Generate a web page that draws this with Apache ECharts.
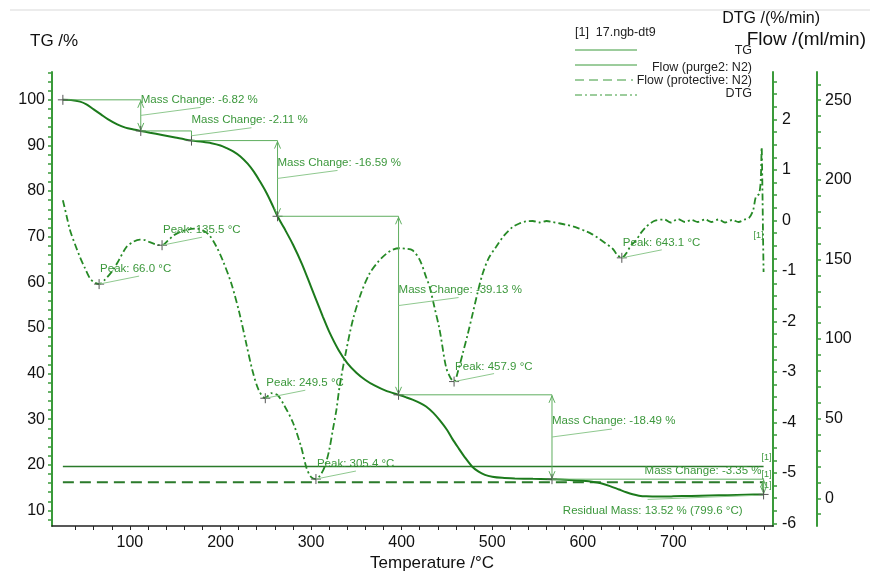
<!DOCTYPE html>
<html><head><meta charset="utf-8">
<script src="https://cdn.jsdelivr.net/npm/echarts@6/dist/echarts.min.js"></script>
<style>html,body{margin:0;padding:0;background:#fff}#c{width:872px;height:577px}</style>
</head><body><div id="c"></div>
<script>
// ---------- data ----------
const tgTemps = [26,35,45,52,60,68,76,86,95,104,112,122,135.5,150,160,168,180,190,200,207,214,222,230,237,243,250,256,263,270,280,290,300,305,313,320,330,340,350,360,370,383,396.6,405,412,420,427,435,442,450,456,462,470,478,485,492,500,511,525,545,566,585,600,612,620,630,640,648,655,662,670,685,700,720,740,760,780,799.6];
const tgValues = [100,99.95,99.6,99.0,97.9,96.8,95.7,94.6,93.9,93.5,93.18,92.8,92.3,91.75,91.35,91.07,90.8,90.5,90.0,89.4,88.7,87.6,86.0,84.2,82.3,79.9,77.5,74.48,72.0,68.3,64.0,59.0,56.5,52.5,49.2,45.3,42.3,40.2,38.6,37.4,36.2,35.35,34.8,34.3,33.6,32.8,31.4,29.8,27.7,25.7,23.9,21.6,19.6,18.5,17.8,17.4,17.15,17.02,16.93,16.86,16.7,16.5,16.25,15.95,15.35,14.6,14.0,13.55,13.25,13.1,13.05,13.1,13.2,13.3,13.35,13.45,13.52];

const dtgTemps = [26,30,34,40,45,50,56,61,66,72,81,88,96,104,111,117,122,130,135.5,142,148,155,164,173.5,181,188,195,202.5,212,221,228,235,242,249.5,256,263,270,280,289,295,300,305.4,310,315,320,324,328,331.5,338,346,355,364.6,374,383,390,397.7,405,412,420,427,431,436,442,449,454,457.9,462,467.5,473,478.5,484,489.5,496,504,513,522.6,530,537,544.7,552,560,566.7,575,583,590,596,603,610,618,625,633,638,643.1,648,653,658.6,664,669.7,675,680.7,690,697,705,713,720,727,735,742,750,757,765,772,779,783.6,788,791,794.6,796.5,797.5,798,798.5,799,799.6];
const dtgValues = [0.40,0.10,-0.20,-0.50,-0.73,-0.93,-1.15,-1.23,-1.26,-1.18,-0.99,-0.78,-0.53,-0.42,-0.38,-0.39,-0.43,-0.48,-0.49,-0.40,-0.30,-0.23,-0.18,-0.16,-0.20,-0.30,-0.50,-0.79,-1.25,-1.84,-2.40,-2.95,-3.35,-3.52,-3.42,-3.46,-3.65,-4.00,-4.48,-4.90,-5.08,-5.12,-5.05,-4.88,-4.55,-4.15,-3.75,-3.29,-2.65,-1.98,-1.45,-1.05,-0.82,-0.66,-0.58,-0.55,-0.56,-0.59,-0.78,-1.12,-1.32,-1.70,-2.17,-2.90,-3.12,-3.19,-3.00,-2.63,-2.25,-1.84,-1.42,-1.05,-0.75,-0.53,-0.30,-0.13,-0.06,-0.02,-0.01,-0.04,-0.01,-0.03,-0.06,-0.09,-0.12,-0.16,-0.21,-0.27,-0.36,-0.45,-0.56,-0.68,-0.74,-0.65,-0.50,-0.40,-0.25,-0.13,-0.05,0.00,0.02,-0.04,0.03,-0.03,0.01,-0.03,0.02,-0.03,0.02,-0.04,0.01,-0.03,0.02,0.05,0.20,0.46,0.53,0.80,1.45,1.00,0.40,-0.30,-1.02];

const flowTemps = [26, 799.6];
const purgeFlow = [20, 20];
const protectiveFlow = [10, 10];

// mass-change steps (TG axis)
const massTemps = [26, 112, 168, 263, 396.6, 566, 799.6];
const massLevels = [100, 93.18, 91.07, 74.48, 35.35, 16.86, 13.52];
const massChanges = ['-6.82', '-2.11', '-16.59', '-39.13', '-18.49', '-3.35'];
const residualText = 'Residual Mass: 13.52 % (799.6 °C)';

// DTG peaks
const peakTemps = [66.0, 135.5, 249.5, 305.4, 457.9, 643.1];
const peakValues = [-1.26, -0.49, -3.52, -5.12, -3.19, -0.74];

// tick labels / ticks
const xLabels = [100,200,300,400,500,600,700];
const xTicks = [40,60,80,100,120,140,160,180,200,220,240,260,280,300,320,340,360,380,400,420,440,460,480,500,520,540,560,580,600,620,640,660,680,700,720,740,760,780,800];
const tgLabels = [10,20,30,40,50,60,70,80,90,100];
const tgTicks = [8,10,12,14,16,18,20,22,24,26,28,30,32,34,36,38,40,42,44,46,48,50,52,54,56,58,60,62,64,66,68,70,72,74,76,78,80,82,84,86,88,90,92,94,96,98,100,102,104,106];
const dtgLabels = [-6,-5,-4,-3,-2,-1,0,1,2];
const dtgTicks = [-6,-5.75,-5.5,-5.25,-5,-4.75,-4.5,-4.25,-4,-3.75,-3.5,-3.25,-3,-2.75,-2.5,-2.25,-2,-1.75,-1.5,-1.25,-1,-0.75,-0.5,-0.25,0,0.25,0.5,0.75,1,1.25,1.5,1.75,2,2.25,2.5,2.75];
const flowLabels = [0,50,100,150,200,250];
const flowTicks = [-10,0,10,20,30,40,50,60,70,80,90,100,110,120,130,140,150,160,170,180,190,200,210,220,230,240,250,260];

// ---------- styles ----------
const FONT = '"Liberation Sans", Arial, sans-serif';
const curveGreen = '#1c7a1c';
const axisGreen = '#3a9a3a';
const annLine = '#5fae5f';
const annText = '#3c983c';
const leaderCol = '#8fc98f';
const crossCol = '#555';

function cross(p, s) {
  return [
    {type:'line', shape:{x1:p[0]-s, y1:p[1], x2:p[0]+s, y2:p[1]}, style:{stroke:crossCol, lineWidth:1}},
    {type:'line', shape:{x1:p[0], y1:p[1]-s, x2:p[0], y2:p[1]+s}, style:{stroke:crossCol, lineWidth:1}}
  ];
}

function massRender(params, api) {
  const i = params.dataIndex;
  const t0 = massTemps[i], t1 = massTemps[i+1];
  const v0 = massLevels[i], v1 = massLevels[i+1];
  const pA = api.coord([t0, v0]), pB = api.coord([t1, v0]), pC = api.coord([t1, v1]);
  const st = {stroke: annLine, lineWidth: 1};
  const ch = [];
  ch.push({type:'line', shape:{x1:pA[0], y1:pA[1], x2:pB[0], y2:pB[1]}, style:st});
  ch.push({type:'line', shape:{x1:pB[0], y1:pB[1], x2:pC[0], y2:pC[1]}, style:st});
  const len = pC[1] - pB[1];
  if (len > 14) {
    ch.push({type:'polyline', shape:{points:[[pB[0]-3,pB[1]+8],[pB[0],pB[1]+1],[pB[0]+3,pB[1]+8]]}, style:{stroke:annLine, fill:null, lineWidth:1}});
    ch.push({type:'polyline', shape:{points:[[pC[0]-3,pC[1]-8],[pC[0],pC[1]-1],[pC[0]+3,pC[1]-8]]}, style:{stroke:annLine, fill:null, lineWidth:1}});
  }
  if (i === 0) ch.push(...cross(pA, 5));
  ch.push(...cross(pC, 5));
  const mid = (pB[1] + pC[1]) / 2;
  const last = i === massChanges.length - 1;
  ch.push({type:'text', x: last ? pC[0] - 2 : pC[0], y: mid - 16,
    style:{text:'Mass Change: ' + massChanges[i] + ' %', fill:annText, font:'11.5px ' + FONT,
      align: last ? 'right' : 'left', verticalAlign:'middle'}});
  if (!last) {
    ch.push({type:'line', shape:{x1:pC[0], y1:mid, x2:pC[0]+60, y2:mid-8}, style:{stroke:leaderCol, lineWidth:1}});
  } else {
    ch.push({type:'line', shape:{x1:pC[0]-116, y1:pC[1]+5, x2:pC[0]-10, y2:pC[1]+1}, style:{stroke:leaderCol, lineWidth:1}});
    ch.push({type:'text', x: pC[0]-21, y: pC[1]+16,
      style:{text:residualText, fill:annText, font:'11.5px ' + FONT, align:'right', verticalAlign:'middle'}});
  }
  return {type:'group', children: ch};
}

function peakRender(params, api) {
  const i = params.dataIndex;
  const p = api.coord([peakTemps[i], peakValues[i]]);
  const ch = cross(p, 5);
  ch.push({type:'line', shape:{x1:p[0], y1:p[1], x2:p[0]+40, y2:p[1]-8}, style:{stroke:leaderCol, lineWidth:1}});
  ch.push({type:'text', x:p[0]+1, y:p[1]-15,
    style:{text:'Peak: ' + peakTemps[i].toFixed(1) + ' °C', fill:annText, font:'11.5px ' + FONT, align:'left', verticalAlign:'middle'}});
  return {type:'group', children: ch};
}

const tagLabel = (dx, dy) => ({show:true, formatter:'[1]', color:annText, fontSize:9, fontFamily:FONT, offset:[dx, dy], align:'right'});

const chart = echarts.init(document.getElementById('c'), null, {renderer:'canvas'});
chart.setOption({
  animation:false,
  backgroundColor:'#fff',
  grid:{left:52, right:99, top:72, bottom:51, containLabel:false},
  xAxis:{type:'value', min:14, max:810,
    axisLine:{show:true, onZero:false, lineStyle:{color:'#222', width:1.5}},
    axisTick:{show:true, customValues:xTicks, length:4, lineStyle:{color:'#222'}},
    axisLabel:{customValues:xLabels, color:'#111', fontSize:16, fontFamily:FONT, margin:9},
    splitLine:{show:false}},
  yAxis:[
    {type:'value', min:6.6, max:106.1, position:'left',
      axisLine:{show:true, lineStyle:{color:axisGreen, width:2}},
      axisTick:{show:true, customValues:tgTicks, length:4, lineStyle:{color:axisGreen, width:1.5}},
      axisLabel:{customValues:tgLabels, color:'#111', fontSize:16, fontFamily:FONT, margin:7},
      splitLine:{show:false}},
    {type:'value', min:-6.05, max:2.94, position:'right',
      axisLine:{show:true, lineStyle:{color:axisGreen, width:2}},
      axisTick:{show:true, customValues:dtgTicks, length:4, lineStyle:{color:axisGreen, width:1.5}},
      axisLabel:{customValues:dtgLabels, color:'#111', fontSize:16, fontFamily:FONT, margin:9},
      splitLine:{show:false}},
    {type:'value', min:-17.4, max:267.7, position:'right', offset:44,
      axisLine:{show:true, lineStyle:{color:axisGreen, width:2}},
      axisTick:{show:true, customValues:flowTicks, length:4, lineStyle:{color:axisGreen, width:1.5}},
      axisLabel:{customValues:flowLabels, color:'#111', fontSize:16, fontFamily:FONT, margin:8},
      splitLine:{show:false}}
  ],
  series:[
    {name:'Flow (purge2: N2)', type:'line', yAxisIndex:2, data:flowTemps.map((t,i)=>[t, purgeFlow[i]]),
      symbol:'none', lineStyle:{color:'#2a7a2a', width:1.6}, endLabel:tagLabel(0,-9), z:2},
    {name:'Flow (protective: N2)', type:'line', yAxisIndex:2, data:flowTemps.map((t,i)=>[t, protectiveFlow[i]]),
      symbol:'none', lineStyle:{color:'#2a7a2a', width:2, type:[11,6]}, endLabel:tagLabel(0,-8), z:2},
    {name:'TG', type:'line', yAxisIndex:0, data:tgTemps.map((t,i)=>[t, tgValues[i]]),
      symbol:'none', smooth:0.3, lineStyle:{color:curveGreen, width:2}, endLabel:tagLabel(0,-9), z:3},
    {name:'DTG', type:'line', yAxisIndex:1, data:dtgTemps.map((t,i)=>[t, dtgValues[i]]),
      symbol:'none', smooth:0.3, lineStyle:{color:'#268a26', width:1.8, type:[7,3,2,3]},
      endLabel:tagLabel(-8,-36), z:3},
    {name:'mass', type:'custom', yAxisIndex:0, renderItem:massRender,
      data:massChanges.map((m,i)=>[massTemps[i+1], massLevels[i+1]]), z:4, clip:false},
    {name:'peaks', type:'custom', yAxisIndex:1, renderItem:peakRender,
      data:peakTemps.map((t,i)=>[t, peakValues[i]]), z:4, clip:false}
  ],
  graphic:[
    {type:'line', shape:{x1:10, y1:10, x2:870, y2:10}, style:{stroke:'#ececec', lineWidth:2}},
    {type:'text', x:30, y:41, style:{text:'TG /%', font:'17px ' + FONT, fill:'#111', verticalAlign:'middle'}},
    {type:'text', x:820, y:19, style:{text:'DTG /(%/min)', font:'16px ' + FONT, fill:'#111', align:'right', verticalAlign:'middle'}},
    {type:'text', x:866, y:40, style:{text:'Flow /(ml/min)', font:'19px ' + FONT, fill:'#111', align:'right', verticalAlign:'middle'}},
    {type:'text', x:432, y:563, style:{text:'Temperature /°C', font:'17px ' + FONT, fill:'#111', align:'center', verticalAlign:'middle'}},
    {type:'text', x:575, y:33, style:{text:'[1]  17.ngb-dt9', font:'12.5px ' + FONT, fill:'#222', verticalAlign:'middle'}},
    {type:'line', shape:{x1:575, y1:50, x2:637, y2:50}, style:{stroke:axisGreen, lineWidth:1}},
    {type:'text', x:752, y:51, style:{text:'TG', font:'12.5px ' + FONT, fill:'#222', align:'right', verticalAlign:'middle'}},
    {type:'line', shape:{x1:575, y1:65, x2:637, y2:65}, style:{stroke:axisGreen, lineWidth:1}},
    {type:'text', x:752, y:68, style:{text:'Flow (purge2: N2)', font:'12.5px ' + FONT, fill:'#222', align:'right', verticalAlign:'middle'}},
    {type:'line', shape:{x1:575, y1:80, x2:633, y2:80}, style:{stroke:axisGreen, lineWidth:1, lineDash:[9,5]}},
    {type:'text', x:752, y:81, style:{text:'Flow (protective: N2)', font:'12.5px ' + FONT, fill:'#222', align:'right', verticalAlign:'middle'}},
    {type:'line', shape:{x1:575, y1:95, x2:637, y2:95}, style:{stroke:axisGreen, lineWidth:1, lineDash:[7,3,2,3]}},
    {type:'text', x:752, y:94, style:{text:'DTG', font:'12.5px ' + FONT, fill:'#222', align:'right', verticalAlign:'middle'}}
  ]
});
</script></body></html>
